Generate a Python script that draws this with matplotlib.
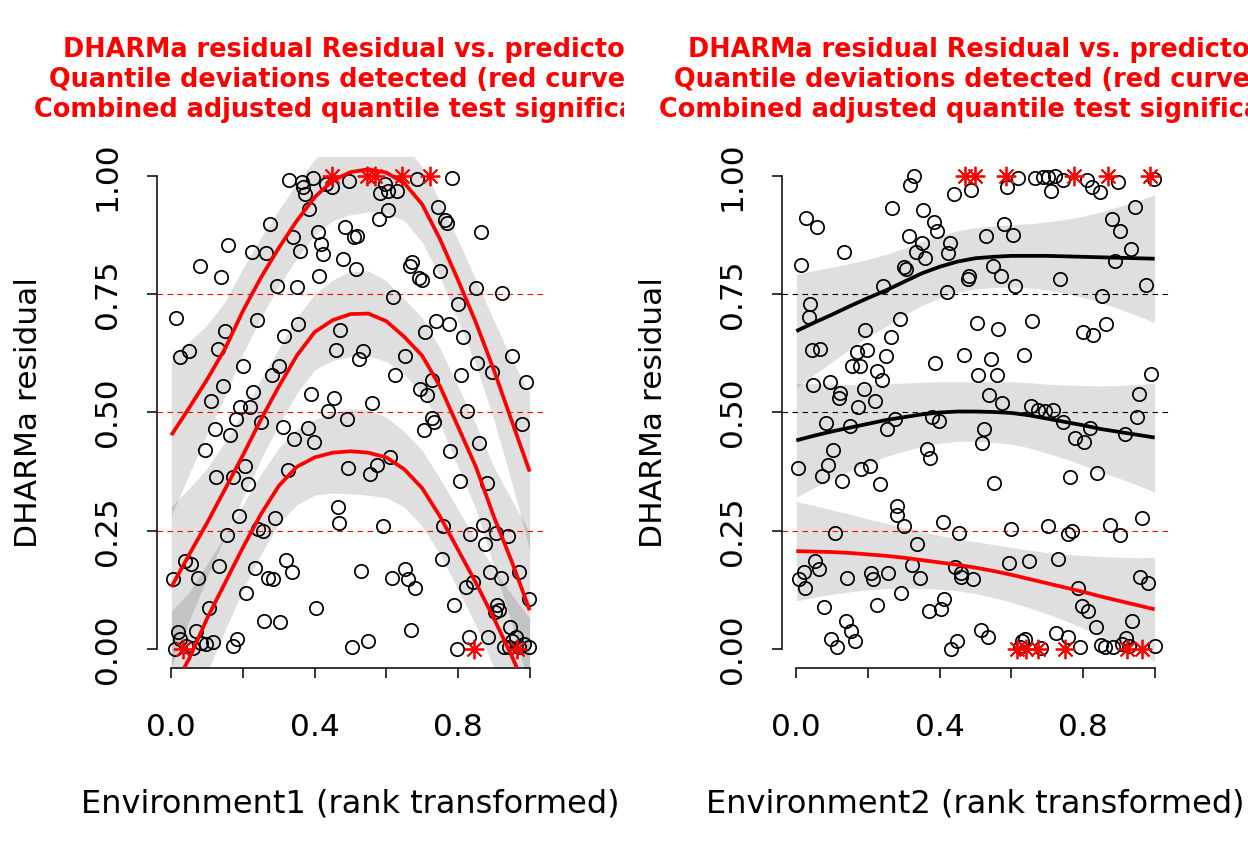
import numpy as np
import matplotlib
matplotlib.use("Agg")
import matplotlib.pyplot as plt
from matplotlib.transforms import Bbox, TransformedBbox

# ---- data ----
env1_x = [0.329, 0.364, 0.368, 0.373, 0.395, 0.432, 0.448, 0.497, 0.583, 0.597,
          0.604, 0.630, 0.686, 0.784, 0.385, 0.604, 0.579, 0.743, 0.765, 0.768,
          0.275, 0.485, 0.510, 0.518, 0.409, 0.340, 0.419, 0.424, 0.359, 0.159,
          0.224, 0.264, 0.863, 0.479, 0.514, 0.413, 0.079, 0.138, 0.294, 0.350,
          0.672, 0.665, 0.690, 0.700, 0.749, 0.849, 0.924, 0.618, 0.799, 0.014,
          0.238, 0.354, 0.149, 0.315, 0.471, 0.709, 0.739, 0.774, 0.814, 0.025,
          0.049, 0.131, 0.459, 0.534, 0.524, 0.653, 0.950, 0.201, 0.300, 0.280,
          0.145, 0.625, 0.728, 0.809, 0.854, 0.894, 0.989, 0.110, 0.229, 0.389,
          0.455, 0.560, 0.693, 0.714, 0.191, 0.219, 0.180, 0.437, 0.490, 0.728,
          0.734, 0.824, 0.979, 0.250, 0.121, 0.163, 0.311, 0.380, 0.343, 0.399,
          0.093, 0.704, 0.779, 0.858, 0.205, 0.124, 0.171, 0.215, 0.325, 0.494,
          0.555, 0.574, 0.609, 0.805, 0.882, 0.189, 0.289, 0.243, 0.257, 0.154,
          0.465, 0.469, 0.590, 0.758, 0.833, 0.869, 0.875, 0.905, 0.940, 0.037,
          0.056, 0.075, 0.005, 0.133, 0.233, 0.271, 0.285, 0.320, 0.336, 0.208,
          0.530, 0.616, 0.651, 0.660, 0.679, 0.754, 0.889, 0.919, 0.970, 0.821,
          0.841, 0.105, 0.404, 0.259, 0.303, 0.788, 0.909, 0.914, 0.903, 0.999,
          0.670, 0.945, 0.961, 0.951, 0.019, 0.023, 0.070, 0.184, 0.173, 0.504,
          0.550, 0.830, 0.884, 0.796, 0.009, 0.042, 0.061, 0.084, 0.098, 0.117,
          0.928, 0.942, 0.970, 0.984, 0.998]
env1_res = [0.991, 0.988, 0.976, 0.961, 0.996, 0.982, 0.976, 0.989, 0.964, 0.982,
            0.968, 0.968, 0.993, 0.995, 0.931, 0.929, 0.909, 0.934, 0.907, 0.901,
            0.898, 0.891, 0.871, 0.874, 0.882, 0.870, 0.857, 0.836, 0.842, 0.855,
            0.839, 0.837, 0.882, 0.824, 0.804, 0.788, 0.809, 0.787, 0.768, 0.766,
            0.818, 0.809, 0.784, 0.781, 0.800, 0.764, 0.752, 0.744, 0.729, 0.699,
            0.696, 0.688, 0.673, 0.662, 0.675, 0.670, 0.693, 0.687, 0.659, 0.618,
            0.629, 0.634, 0.631, 0.629, 0.612, 0.620, 0.619, 0.598, 0.599, 0.579,
            0.557, 0.579, 0.568, 0.580, 0.604, 0.586, 0.564, 0.524, 0.543, 0.539,
            0.531, 0.519, 0.549, 0.536, 0.511, 0.512, 0.487, 0.504, 0.486, 0.489,
            0.480, 0.504, 0.476, 0.479, 0.466, 0.452, 0.470, 0.468, 0.443, 0.437,
            0.421, 0.464, 0.419, 0.436, 0.386, 0.363, 0.363, 0.349, 0.379, 0.382,
            0.370, 0.388, 0.405, 0.355, 0.350, 0.281, 0.277, 0.254, 0.249, 0.241,
            0.300, 0.266, 0.261, 0.259, 0.244, 0.262, 0.223, 0.245, 0.239, 0.187,
            0.179, 0.150, 0.148, 0.176, 0.171, 0.150, 0.148, 0.188, 0.163, 0.118,
            0.164, 0.150, 0.170, 0.148, 0.130, 0.191, 0.162, 0.151, 0.162, 0.131,
            0.141, 0.086, 0.087, 0.059, 0.057, 0.093, 0.093, 0.082, 0.079, 0.105,
            0.041, 0.046, 0.025, 0.018, 0.036, 0.021, 0.039, 0.021, 0.007, 0.005,
            0.016, 0.025, 0.025, 0.000, 0.000, 0.007, 0.002, 0.012, 0.011, 0.014,
            0.004, 0.005, 0.005, 0.011, 0.004]

env2_x = [0.329, 0.318, 0.439, 0.488, 0.619, 0.589, 0.665, 0.689, 0.703, 0.721,
          0.745, 0.710, 0.810, 0.824, 0.848, 0.897, 0.997, 0.028, 0.058, 0.268,
          0.354, 0.383, 0.393, 0.315, 0.350, 0.334, 0.359, 0.430, 0.424, 0.530,
          0.579, 0.605, 0.880, 0.904, 0.944, 0.935, 0.133, 0.013, 0.301, 0.307,
          0.483, 0.479, 0.550, 0.570, 0.611, 0.421, 0.243, 0.736, 0.890, 0.976,
          0.854, 0.039, 0.035, 0.290, 0.505, 0.563, 0.659, 0.799, 0.829, 0.864,
          0.193, 0.264, 0.044, 0.067, 0.168, 0.198, 0.156, 0.178, 0.250, 0.226,
          0.238, 0.388, 0.469, 0.544, 0.508, 0.560, 0.634, 0.047, 0.093, 0.123,
          0.119, 0.189, 0.219, 0.172, 0.990, 0.955, 0.539, 0.574, 0.654, 0.675,
          0.693, 0.717, 0.745, 0.820, 0.778, 0.804, 0.916, 0.950, 0.083, 0.150,
          0.254, 0.275, 0.379, 0.399, 0.523, 0.518, 0.004, 0.103, 0.089, 0.072,
          0.128, 0.181, 0.205, 0.234, 0.364, 0.374, 0.553, 0.764, 0.840, 0.280,
          0.282, 0.301, 0.408, 0.453, 0.598, 0.703, 0.759, 0.768, 0.876, 0.902,
          0.964, 0.107, 0.338, 0.053, 0.063, 0.021, 0.007, 0.023, 0.142, 0.207,
          0.214, 0.257, 0.324, 0.345, 0.444, 0.460, 0.460, 0.494, 0.593, 0.650,
          0.729, 0.785, 0.960, 0.981, 0.077, 0.224, 0.293, 0.413, 0.404, 0.369,
          0.796, 0.815, 0.836, 0.938, 0.139, 0.153, 0.164, 0.098, 0.114, 0.432,
          0.449, 0.514, 0.535, 0.630, 0.639, 0.623, 0.684, 0.726, 0.759, 0.792,
          0.850, 0.862, 0.885, 0.908, 0.921, 0.927, 1.000]
env2_res = [0.999, 0.981, 0.961, 0.971, 0.996, 0.976, 0.996, 0.998, 0.998, 0.999,
            0.991, 0.968, 0.992, 0.976, 0.966, 0.987, 0.994, 0.910, 0.892, 0.932,
            0.928, 0.903, 0.883, 0.873, 0.858, 0.840, 0.826, 0.858, 0.837, 0.873,
            0.898, 0.875, 0.908, 0.883, 0.935, 0.846, 0.840, 0.812, 0.808, 0.803,
            0.789, 0.783, 0.810, 0.788, 0.767, 0.755, 0.767, 0.782, 0.820, 0.769,
            0.746, 0.730, 0.701, 0.697, 0.689, 0.676, 0.694, 0.671, 0.664, 0.688,
            0.674, 0.660, 0.631, 0.635, 0.628, 0.633, 0.599, 0.599, 0.620, 0.587,
            0.569, 0.604, 0.621, 0.612, 0.579, 0.579, 0.621, 0.558, 0.564, 0.542,
            0.531, 0.549, 0.524, 0.511, 0.581, 0.540, 0.536, 0.519, 0.513, 0.506,
            0.504, 0.506, 0.479, 0.467, 0.445, 0.438, 0.454, 0.490, 0.478, 0.471,
            0.466, 0.486, 0.490, 0.481, 0.465, 0.435, 0.383, 0.420, 0.390, 0.365,
            0.356, 0.381, 0.386, 0.349, 0.422, 0.404, 0.350, 0.363, 0.372, 0.302,
            0.283, 0.261, 0.268, 0.245, 0.254, 0.259, 0.243, 0.250, 0.263, 0.240,
            0.277, 0.245, 0.222, 0.187, 0.170, 0.163, 0.148, 0.130, 0.150, 0.161,
            0.148, 0.161, 0.177, 0.150, 0.173, 0.161, 0.152, 0.148, 0.181, 0.187,
            0.191, 0.130, 0.152, 0.139, 0.088, 0.093, 0.118, 0.106, 0.084, 0.080,
            0.091, 0.080, 0.046, 0.059, 0.059, 0.039, 0.018, 0.021, 0.005, 0.000,
            0.016, 0.041, 0.025, 0.016, 0.021, 0.004, 0.002, 0.034, 0.025, 0.004,
            0.009, 0.005, 0.005, 0.011, 0.024, 0.007, 0.007]

# outliers (residual exactly 0 or 1), drawn as red stars
env1_top_stars = [0.448, 0.546, 0.569, 0.644, 0.721]
env1_bottom_stars = [0.033, 0.844, 0.966]
env2_top_stars = [0.472, 0.499, 0.586, 0.776, 0.869, 0.988]
env2_bottom_stars = [0.616, 0.642, 0.675, 0.750, 0.922, 0.964]

# quantile regression curves (0.25, 0.5, 0.75) and their band half widths
curve_x = [0.0, 0.05, 0.1, 0.15, 0.2, 0.25, 0.3, 0.35, 0.4, 0.45, 0.5,
           0.55, 0.6, 0.65, 0.7, 0.75, 0.8, 0.85, 0.9, 0.95, 1.0]

env1_q25 = [-0.09, -0.02, 0.065, 0.14, 0.215, 0.285, 0.345, 0.385, 0.405, 0.415, 0.418,
            0.415, 0.405, 0.38, 0.34, 0.28, 0.21, 0.14, 0.065, -0.015, -0.10]
env1_q50 = [0.131, 0.20, 0.267, 0.338, 0.41, 0.485, 0.555, 0.62, 0.67, 0.695, 0.708,
            0.709, 0.693, 0.66, 0.62, 0.555, 0.47, 0.385, 0.28, 0.185, 0.082]
env1_q75 = [0.452, 0.51, 0.57, 0.635, 0.715, 0.785, 0.848, 0.905, 0.955, 0.99, 1.008,
            1.014, 1.007, 0.985, 0.94, 0.866, 0.78, 0.69, 0.59, 0.482, 0.375]
env1_se = [0.17, 0.14, 0.115, 0.10, 0.09, 0.085, 0.08, 0.08, 0.08, 0.085, 0.09,
           0.09, 0.085, 0.08, 0.08, 0.08, 0.085, 0.09, 0.105, 0.13, 0.165]

env2_q25 = [0.207, 0.206, 0.205, 0.203, 0.200, 0.197, 0.193, 0.188, 0.183, 0.178, 0.172,
            0.165, 0.157, 0.148, 0.139, 0.130, 0.121, 0.111, 0.102, 0.093, 0.084]
env2_q50 = [0.441, 0.451, 0.460, 0.468, 0.476, 0.484, 0.490, 0.496, 0.500, 0.502, 0.502,
            0.501, 0.499, 0.494, 0.487, 0.480, 0.473, 0.465, 0.459, 0.453, 0.447]
env2_q75 = [0.672, 0.690, 0.707, 0.725, 0.742, 0.758, 0.776, 0.794, 0.808, 0.819, 0.826,
            0.829, 0.831, 0.831, 0.831, 0.830, 0.829, 0.828, 0.827, 0.826, 0.825]
env2_se25 = [0.105, 0.097, 0.089, 0.082, 0.075, 0.069, 0.064, 0.06, 0.057, 0.055, 0.055,
             0.056, 0.058, 0.061, 0.065, 0.07, 0.077, 0.084, 0.092, 0.10, 0.11]
env2_se50 = [0.12, 0.11, 0.10, 0.091, 0.083, 0.077, 0.072, 0.068, 0.065, 0.063, 0.063,
             0.064, 0.066, 0.069, 0.073, 0.078, 0.084, 0.091, 0.098, 0.106, 0.115]
env2_se75 = [0.12, 0.11, 0.10, 0.09, 0.082, 0.076, 0.071, 0.068, 0.066, 0.065, 0.065,
             0.065, 0.066, 0.068, 0.072, 0.078, 0.086, 0.096, 0.108, 0.121, 0.135]

quantiles = [0.25, 0.5, 0.75]
x_ticks = [0.0, 0.2, 0.4, 0.6, 0.8, 1.0]
x_tick_labels = ["0.0", "", "0.4", "", "0.8", ""]
y_ticks = [0.0, 0.25, 0.5, 0.75, 1.0]
y_tick_labels = ["0.00", "0.25", "0.50", "0.75", "1.00"]

title_text = ("DHARMa residual Residual vs. predictor\n"
              "Quantile deviations detected (red curves)\n"
              "Combined adjusted quantile test significant")

FS = 22.5


def draw_panel(ax, xs, ys, curves, bands, colors, top_stars, bottom_stars, xlabel):
    cx = np.array(curve_x)
    for c, w in zip(curves, bands):
        c = np.array(c)
        w = np.array(w)
        ax.fill_between(cx, c - w, c + w, color='black', alpha=0.125, lw=0, zorder=1)

    for q, col in zip(quantiles, colors):
        ax.axhline(q, color=col, ls=(0, (5, 4)), lw=0.8, zorder=2)

    ax.plot(xs, ys, 'o', mfc='none', mec='black', ms=9.6, mew=1.25, ls='none', zorder=3)

    ax.plot(top_stars, [1.0] * len(top_stars), ls='none', marker=(8, 2, 0),
            ms=14, mec='red', mew=1.3, zorder=4, clip_on=False)
    ax.plot(bottom_stars, [0.0] * len(bottom_stars), ls='none', marker=(8, 2, 0),
            ms=14, mec='red', mew=1.3, zorder=4, clip_on=False)

    for c, col in zip(curves, colors):
        ax.plot(cx, c, color=col, lw=2.7, zorder=5, solid_capstyle='butt',
                solid_joinstyle='round')

    ax.set_xlim(-0.04, 1.04)
    ax.set_ylim(-0.04, 1.04)
    for side in ['top', 'right']:
        ax.spines[side].set_visible(False)
    ax.spines['left'].set_bounds(0, 1)
    ax.spines['bottom'].set_bounds(0, 1)
    ax.spines['left'].set_linewidth(1.1)
    ax.spines['bottom'].set_linewidth(1.1)

    ax.set_xticks(x_ticks)
    ax.set_xticklabels(x_tick_labels)
    ax.set_yticks(y_ticks)
    ax.set_yticklabels(y_tick_labels, rotation=90, va='center')
    ax.tick_params(axis='both', direction='out', length=7.2, width=1.1, labelsize=FS)
    ax.tick_params(axis='x', pad=25)
    ax.tick_params(axis='y', pad=18)

    ax.set_xlabel(xlabel, fontsize=23)
    ax.xaxis.set_label_coords(0.5, -0.236)
    ax.set_ylabel("DHARMa residual", fontsize=FS)
    ax.yaxis.set_label_coords(-0.2935, 0.5)


fig = plt.figure(figsize=(12.48, 8.64), dpi=100)
ax1 = fig.add_axes([0.1258, 0.2269, 0.3101, 0.5914])
ax2 = fig.add_axes([0.6266, 0.2269, 0.3101, 0.5914])

draw_panel(ax1, env1_x, env1_res, [env1_q25, env1_q50, env1_q75],
           [env1_se, env1_se, env1_se], ['red', 'red', 'red'],
           env1_top_stars, env1_bottom_stars, "Environment1 (rank transformed)")
draw_panel(ax2, env2_x, env2_res, [env2_q25, env2_q50, env2_q75],
           [env2_se25, env2_se50, env2_se75], ['red', 'black', 'black'],
           env2_top_stars, env2_bottom_stars, "Environment2 (rank transformed)")

# titles, clipped to each half of the figure like R's figure regions
for ax, x0, x1 in [(ax1, 0.0, 0.5), (ax2, 0.5, 1.0)]:
    pos = ax.get_position()
    t = fig.text((pos.x0 + pos.x1) / 2, 0.9075, title_text, ha='center', va='center',
                 color='red', fontweight='bold', fontsize=18.4, linespacing=1.2)
    t.set_clip_box(TransformedBbox(Bbox([[x0, 0], [x1, 1]]), fig.transFigure))
    t.set_clip_on(True)

fig.savefig('out.png', dpi=100)
plt.close(fig)
